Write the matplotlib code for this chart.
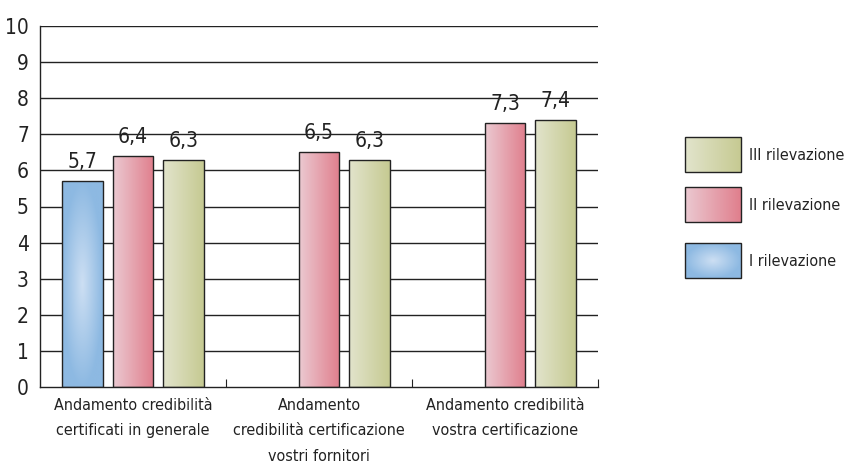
import matplotlib
matplotlib.use("Agg")
import matplotlib.pyplot as plt
from matplotlib.patches import Rectangle
import numpy as np

plt.rcParams['font.family'] = ['DejaVu Sans']
plt.rcParams['font.stretch'] = 'condensed'

categories = ["Andamento credibilità\ncertificati in generale",
              "Andamento\ncredibilità certificazione\nvostri fornitori",
              "Andamento credibilità\nvostra certificazione"]
series_names = ["I rilevazione", "II rilevazione", "III rilevazione"]
values_I = [5.7, None, None]
values_II = [6.4, 6.5, 7.3]
values_III = [6.3, 6.3, 7.4]
yticks = list(range(0, 11))


def linear_grad(c0, c1, n=64):
    c0 = np.array(matplotlib.colors.to_rgb(c0))
    c1 = np.array(matplotlib.colors.to_rgb(c1))
    t = np.linspace(0, 1, n)[None, :, None]
    return np.repeat(c0 + (c1 - c0) * t, 4, axis=0)


def radial_grad(cin, cout, n=64):
    cin = np.array(matplotlib.colors.to_rgb(cin))
    cout = np.array(matplotlib.colors.to_rgb(cout))
    x = np.linspace(-1, 1, n)
    y = np.linspace(-1, 1, n * 3)
    X, Y = np.meshgrid(x, y)
    r = np.clip(np.sqrt(X ** 2 + Y ** 2), 0, 1)[:, :, None]
    return cin + (cout - cin) * r


grads = [radial_grad("#cddff3", "#8db9e2"),
         linear_grad("#ebc9d1", "#e07f8d"),
         linear_grad("#e2e4cc", "#c6ca92")]


def grad_rect(ax, x0, x1, y0, y1, img):
    rect = Rectangle((x0, y0), x1 - x0, y1 - y0, facecolor="none",
                     edgecolor="#222222", lw=1.0, zorder=3)
    ax.add_patch(rect)
    im = ax.imshow(img, extent=(x0, x1, y0, y1), aspect="auto",
                   origin="lower", zorder=2, interpolation="bilinear")
    im.set_clip_path(rect)


fig = plt.figure(figsize=(8.47, 4.68), dpi=100)
ax = fig.add_axes([40 / 847, 81 / 468, 558 / 847, 361 / 468])

series = [values_I, values_II, values_III]
width = 0.22
pitch = 0.27
for gi in range(len(categories)):
    for si, vals in enumerate(series):
        v = vals[gi]
        if v is None:
            continue
        xc = gi + 0.5 + (si - 1) * pitch
        grad_rect(ax, xc - width / 2, xc + width / 2, 0, v, grads[si])
        ax.text(xc, v + 0.25, f"{v:.1f}".replace(".", ","), ha="center", va="bottom",
                fontsize=15, color="#222222")

ax.set_xlim(0, 3)
ax.set_ylim(0, 10)
ax.set_yticks(yticks)
ax.set_yticklabels([str(t) for t in yticks], fontsize=15, color="#222222")
ax.tick_params(axis="y", length=0, pad=8)
ax.set_xticks([1, 2, 3])
ax.set_xticklabels([])
ax.set_xticks([0.5, 1.5, 2.5], minor=True)
ax.set_xticklabels(categories, minor=True, fontsize=11.5, color="#222222", linespacing=1.85)
ax.tick_params(axis="x", which="major", direction="in", length=6, color="#222222")
ax.tick_params(axis="x", which="minor", length=0, pad=8)
for y in yticks[1:]:
    ax.axhline(y, color="#222222", lw=1.0, zorder=1)
for s in ["top", "right"]:
    ax.spines[s].set_visible(False)
for s in ["left", "bottom"]:
    ax.spines[s].set_color("#222222")
    ax.spines[s].set_linewidth(1.0)

# legend drawn in pixel coordinates
lax = fig.add_axes([0, 0, 1, 1], facecolor="none")
lax.axis("off")
leg_y = [137, 187, 243]
for k, si in enumerate([2, 1, 0]):
    y0 = leg_y[k]
    grad_rect(lax, 685, 741, y0, y0 + 35, grads[si])
    lax.text(749, y0 + 18, series_names[si], ha="left", va="center", fontsize=11.5, color="#222222")
lax.set_xlim(0, 847)
lax.set_ylim(468, 0)

fig.savefig("out.png", dpi=100)
